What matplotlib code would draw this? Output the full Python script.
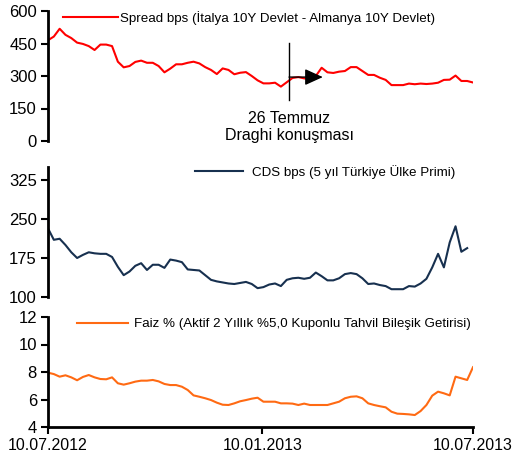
import matplotlib

matplotlib.use("Agg")
import matplotlib.dates as mdates
import matplotlib.pyplot as plt
import numpy as np
import pandas as pd

plt.rcParams["font.family"] = ["Liberation Sans", "DejaVu Sans"]

# 5 günlük aralıklarla okunan değerler (10.07.2012 - 10.07.2013)
dates = pd.date_range("2012-07-10", "2013-07-10", freq="5D")

spread = [465, 482, 518, 490, 475, 454, 448, 438, 420, 445,
          445, 438, 366, 340, 346, 365, 371, 361, 361, 346,
          317, 334, 354, 354, 361, 366, 358, 341, 328, 309,
          335, 328, 308, 315, 318, 300, 280, 266, 266, 269,
          251, 271, 291, 295, 289, 286, 300, 338, 317, 314,
          320, 323, 341, 341, 323, 305, 305, 292, 282, 258,
          258, 258, 265, 262, 265, 263, 265, 269, 282, 283,
          302, 277, 277, 270]

cds = [232, 210, 212, 200, 186, 175, 181, 186, 184, 183,
       183, 177, 158, 142, 149, 160, 165, 152, 162, 162,
       156, 172, 170, 167, 153, 152, 151, 142, 133, 130,
       128, 126, 125, 127, 129, 125, 117, 119, 124, 126,
       121, 133, 136, 137, 135, 137, 147, 140, 132, 132,
       136, 144, 146, 144, 136, 125, 126, 123, 121, 115,
       115, 115, 121, 120, 126, 135, 157, 183, 157, 205,
       236, 187, 194, np.nan]

faiz = [7.95, 7.85, 7.66, 7.76, 7.61, 7.40, 7.64, 7.78, 7.61, 7.49,
        7.47, 7.61, 7.18, 7.08, 7.18, 7.30, 7.37, 7.37, 7.42, 7.32,
        7.13, 7.05, 7.05, 6.93, 6.69, 6.30, 6.20, 6.09, 5.96, 5.77,
        5.62, 5.60, 5.72, 5.87, 5.96, 6.06, 6.13, 5.84, 5.84, 5.84,
        5.72, 5.72, 5.70, 5.60, 5.70, 5.60, 5.60, 5.60, 5.60, 5.72,
        5.84, 6.09, 6.20, 6.23, 6.09, 5.72, 5.60, 5.51, 5.43, 5.11,
        4.97, 4.95, 4.92, 4.87, 5.16, 5.60, 6.28, 6.57, 6.45, 6.30,
        7.66, 7.54, 7.42, 8.35]

x_ticks = ["2012-07-10", "2013-01-10", "2013-07-10"]

W, H = 517, 459
fig = plt.figure(figsize=(W / 100, H / 100), dpi=100)


def add_axes_px(left, top, right, bottom):
    return fig.add_axes([left / W, 1 - bottom / H, (right - left) / W, (bottom - top) / H])


def style_axis(ax, show_x):
    for side in ("top", "right"):
        ax.spines[side].set_visible(False)
    ax.spines["left"].set_linewidth(2)
    if show_x:
        ax.spines["bottom"].set_linewidth(2)
    else:
        ax.spines["bottom"].set_visible(False)
        ax.set_xticks([])
    ax.tick_params(axis="both", direction="out", length=5, width=1.5, pad=3)
    ax.tick_params(axis="y", labelsize=12)
    ax.tick_params(axis="x", labelsize=11.5)
    ax.set_xlim(pd.Timestamp(x_ticks[0]), pd.Timestamp(x_ticks[-1]))


def legend_px(ax, x, y, hlen, tpad):
    ax.legend(loc="center left", bbox_to_anchor=(x / W, 1 - y / H), bbox_transform=fig.transFigure,
              frameon=False, borderpad=0, borderaxespad=0, fontsize=9.6,
              handlelength=hlen, handletextpad=tpad)


ax1 = add_axes_px(48, 11, 473, 141)
ax2 = add_axes_px(48, 167, 473, 297)
ax3 = add_axes_px(48, 317, 473, 427)

ax1.plot(dates, spread, color="#ff0000", lw=1.5,
         label="Spread bps (İtalya 10Y Devlet - Almanya 10Y Devlet)")
ax1.set_ylim(0, 600)
ax1.set_yticks([0, 150, 300, 450, 600])
style_axis(ax1, False)
legend_px(ax1, 63, 18, 4.1, 0.15)

# Draghi konuşması işareti
d_line = pd.Timestamp("2013-02-02")
ax1.plot([d_line, d_line], [189, 452], color="black", lw=1)
ax1.annotate("", xy=(pd.Timestamp("2013-03-03"), 295), xytext=(d_line, 295),
             arrowprops=dict(arrowstyle="-|>,head_length=1.1,head_width=0.5", color="black",
                             lw=1, shrinkA=0, shrinkB=0))
ax1.text(pd.Timestamp("2013-02-02"), 65, "26 Temmuz\nDraghi konuşması",
         ha="center", va="center", fontsize=11.5, linespacing=1.2)

ax2.plot(dates, cds, color="#17304f", lw=1.5, label="CDS bps (5 yıl Türkiye Ülke Primi)")
ax2.set_ylim(100, 350)
ax2.set_yticks([100, 175, 250, 325])
style_axis(ax2, False)
legend_px(ax2, 195, 172, 3.6, 0.68)

ax3.plot(dates, faiz, color="#ff6a13", lw=1.5,
         label="Faiz % (Aktif 2 Yıllık %5,0 Kuponlu Tahvil Bileşik Getirisi)")
ax3.set_ylim(4, 12)
ax3.set_yticks([4, 6, 8, 10, 12])
style_axis(ax3, True)
ax3.set_xticks([pd.Timestamp(d) for d in x_ticks])
ax3.xaxis.set_major_formatter(mdates.DateFormatter("%d.%m.%Y"))
legend_px(ax3, 77, 324, 3.8, 0.45)

fig.savefig("out.png", dpi=100)
plt.close(fig)
